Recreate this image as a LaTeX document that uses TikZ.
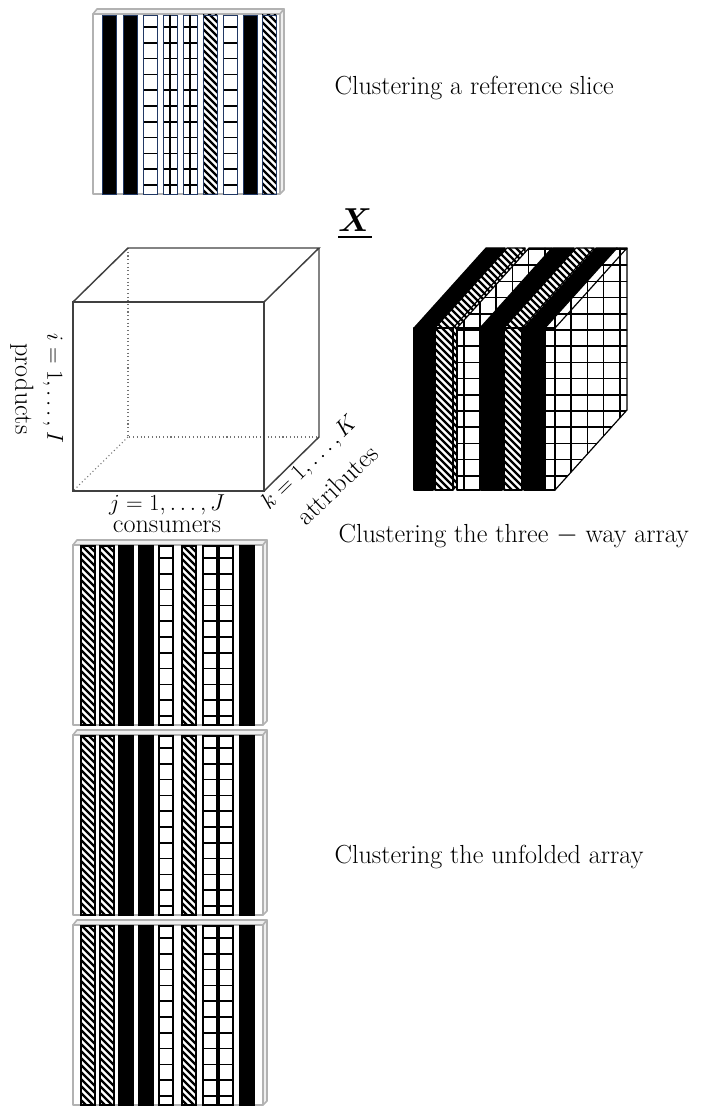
\documentclass[tikz,border=0pt]{standalone}
\usepackage{amsmath}
\usepackage{amssymb}
\usepackage{bm}
\usepackage{tikz}
\usepackage{xcolor}
\usetikzlibrary{positioning}

\definecolor{navy}{RGB}{32,56,100}

% diagonal hatch, clipped to a path (#2,#3 = origin of the lines)
\newcommand{\hatchfill}[3]{%
	\begin{scope}
		\clip #1;
		\foreach \k in {-252,-245,...,250}
			\draw[line width=1.7pt] (#2+\k-120,#3-120) -- (#2+\k+200,#3+200);
	\end{scope}}

% square grid, clipped to a path
\newcommand{\gridfill}[3]{%
	\begin{scope}
		\clip #1;
		\foreach \k in {-6,...,12} {
			\draw[line width=1.2pt] (#2+16.2*\k,#3-100) -- (#2+16.2*\k,#3+200);
			\draw[line width=1.2pt] (#2-100,#3+16.2*\k) -- (#2+200,#3+16.2*\k);
		}
	\end{scope}}

% one stripe of squares: x, top, bottom
\newcommand{\gridstripe}[3]{%
	\fill[white] (#1,#2) rectangle (#1+14,#3);
	\foreach \j in {0,...,10}
		\draw[line width=1.3pt] (#1,#2+12+15.8*\j) -- ++(14,0);}

% one slice of the three-way array: x, width, kind (0 black, 1 hatch, 2 grid)
\newcommand{\slab}[3]{%
	\ifcase#3
		\fill[black] (#1,328) -- (#1+72,248) -- (#1+#2+72,248) -- (#1+#2+72,410) -- (#1+#2,490) -- (#1,490) -- cycle;
	\or
		\fill[white] (#1,328) -- (#1+72,248) -- (#1+#2+72,248) -- (#1+#2+72,410) -- (#1+#2,490) -- (#1,490) -- cycle;
		\hatchfill{(#1,328) -- (#1+72,248) -- (#1+#2+72,248) -- (#1+#2+72,410) -- (#1+#2,490) -- (#1,490) -- cycle}{#1}{328}
	\or
		\fill[white] (#1,328) -- (#1+72,248) -- (#1+#2+72,248) -- (#1+#2+72,410) -- (#1+#2,490) -- (#1,490) -- cycle;
		\gridfill{(#1,328) -- (#1+72,248) -- (#1+#2+72,248) -- (#1+#2+72,410) -- (#1+#2,490) -- (#1,490) -- cycle}{#1+#2}{330}
	\fi
	\draw[slabedge] (#1,490) -- (#1,328) -- (#1+#2,328) -- (#1+#2,490) -- cycle;
	\draw[slabedge] (#1,328) -- (#1+72,248) -- (#1+#2+72,248) -- (#1+#2,328);
	\draw[slabedge] (#1+#2+72,248) -- (#1+#2+72,410) -- (#1+#2,490);}

\begin{document}
\begin{tikzpicture}[x=0.75pt,y=-0.75pt,
		framebox/.style={draw=gray!60, line width=1.2pt, line join=round},
		navyline/.style={draw=navy, line width=0.6pt},
		blackline/.style={draw=black, line width=0.8pt},
		cubeedge/.style={draw=black!75, line width=1.1pt},
		hiddenedge/.style={draw=black!55, dotted, line width=0.8pt},
		slabedge/.style={draw=black, line width=0.9pt, line join=round},
		lbl/.style={font=\fontsize{19.6}{24}\selectfont, inner sep=1pt},
		mathlbl/.style={font=\fontsize{17}{20}\selectfont, inner sep=1pt}]
	\useasboundingbox (0,0) rectangle (713,1109);

	% reference slice
	\draw[framebox, fill=gray!12] (93,14) -- (97,9) -- (284,9) -- (280,14) -- cycle;
	\draw[framebox, fill=gray!12] (280,14) -- (284,9) -- (284,190) -- (280,194) -- cycle;
	\draw[framebox, fill=white] (93,14) rectangle (280,194);
	\foreach \x in {102,123,243}
		\draw[navyline, fill=black] (\x,15) rectangle ++(14,179);
	\foreach \x in {203,262} {
		\hatchfill{(\x,15) rectangle ++(14,179)}{\x}{15}
		\draw[navyline] (\x,15) rectangle ++(14,179);
	}
	\foreach \x in {143,163,183,223} {
		\gridstripe{\x}{15}{194}
		\draw[navyline] (\x,15) rectangle ++(14,179);
	}
	\foreach \x in {163,183}
		\draw[line width=1.2pt] (\x+7,15) -- ++(0,179);
	\node[lbl, anchor=base west] (slicetxt) at (333,95) {Clustering a reference slice};

	% the cube X
	\coordinate (f1) at (73,491);
	\coordinate (f2) at (264,491);
	\coordinate (f3) at (264,302);
	\coordinate (f4) at (73,302);
	\coordinate (b1) at (128,437);
	\coordinate (b2) at (319,437);
	\coordinate (b3) at (319,248);
	\coordinate (b4) at (128,248);
	\draw[hiddenedge] (b4) -- (b1) -- (b2);
	\draw[hiddenedge] (b1) -- (f1);
	\draw[cubeedge] (f1) -- (f2) -- (f3) -- (f4) -- cycle;
	\draw[cubeedge] (f4) -- (b4) -- (b3) -- (f3);
	\draw[cubeedge] (b3) -- (b2) -- (f2);
	\node (xlabel) at (355,224) {\fontsize{30}{30}\selectfont$\underline{\bm{X}}$};
	\node[mathlbl] (jlabel) at (167,505) {$j=1,\ldots,J$};
	\node[lbl] (conslabel) at (167,527) {consumers};
	\node[mathlbl, rotate=44] (klabel) at (310,463) {$k=1,\ldots,K$};
	\node[lbl, rotate=44] (attlabel) at (337,485) {attributes};
	\node[mathlbl, rotate=-90] (ilabel) at (53,388) {$i=1,\ldots,I$};
	\node[lbl, rotate=-90] (prodlabel) at (22,389) {products};

	% the three-way array, slice by slice
	\foreach \x/\w/\t in {414/19/0, 435/18/1, 457/23/2, 481/21/0, 504/18/1, 524/21/0, 545/10/2} {
		\slab{\x}{\w}{\t}
	}
	\node[lbl, anchor=base west] (threetxt) at (337,542) {Clustering the three $-$ way array};

	% the unfolded array
	\foreach \y in {545,735,925} {
		\draw[framebox, fill=gray!12] (73,\y) -- (77,\y-5) -- (267,\y-5) -- (263,\y) -- cycle;
		\draw[framebox, fill=gray!12] (263,\y) -- (267,\y-5) -- (267,\y+176) -- (263,\y+180) -- cycle;
		\draw[framebox, fill=white] (73,\y) rectangle (263,\y+180);
		\foreach \x in {119,139,240}
			\draw[blackline, fill=black] (\x,\y+1) rectangle ++(14,179);
		\foreach \x in {81,100,182} {
			\hatchfill{(\x,\y+1) rectangle ++(14,179)}{\x}{\y}
			\draw[blackline] (\x,\y+1) rectangle ++(14,179);
		}
		\foreach \x in {159,203,219} {
			\gridstripe{\x}{\y+1}{\y+180}
			\draw[blackline] (\x,\y+1) rectangle ++(14,179);
		}
	}
	\node[lbl, anchor=base west] (unfoldtxt) at (333,863) {Clustering the unfolded array};
\end{tikzpicture}
\end{document}
